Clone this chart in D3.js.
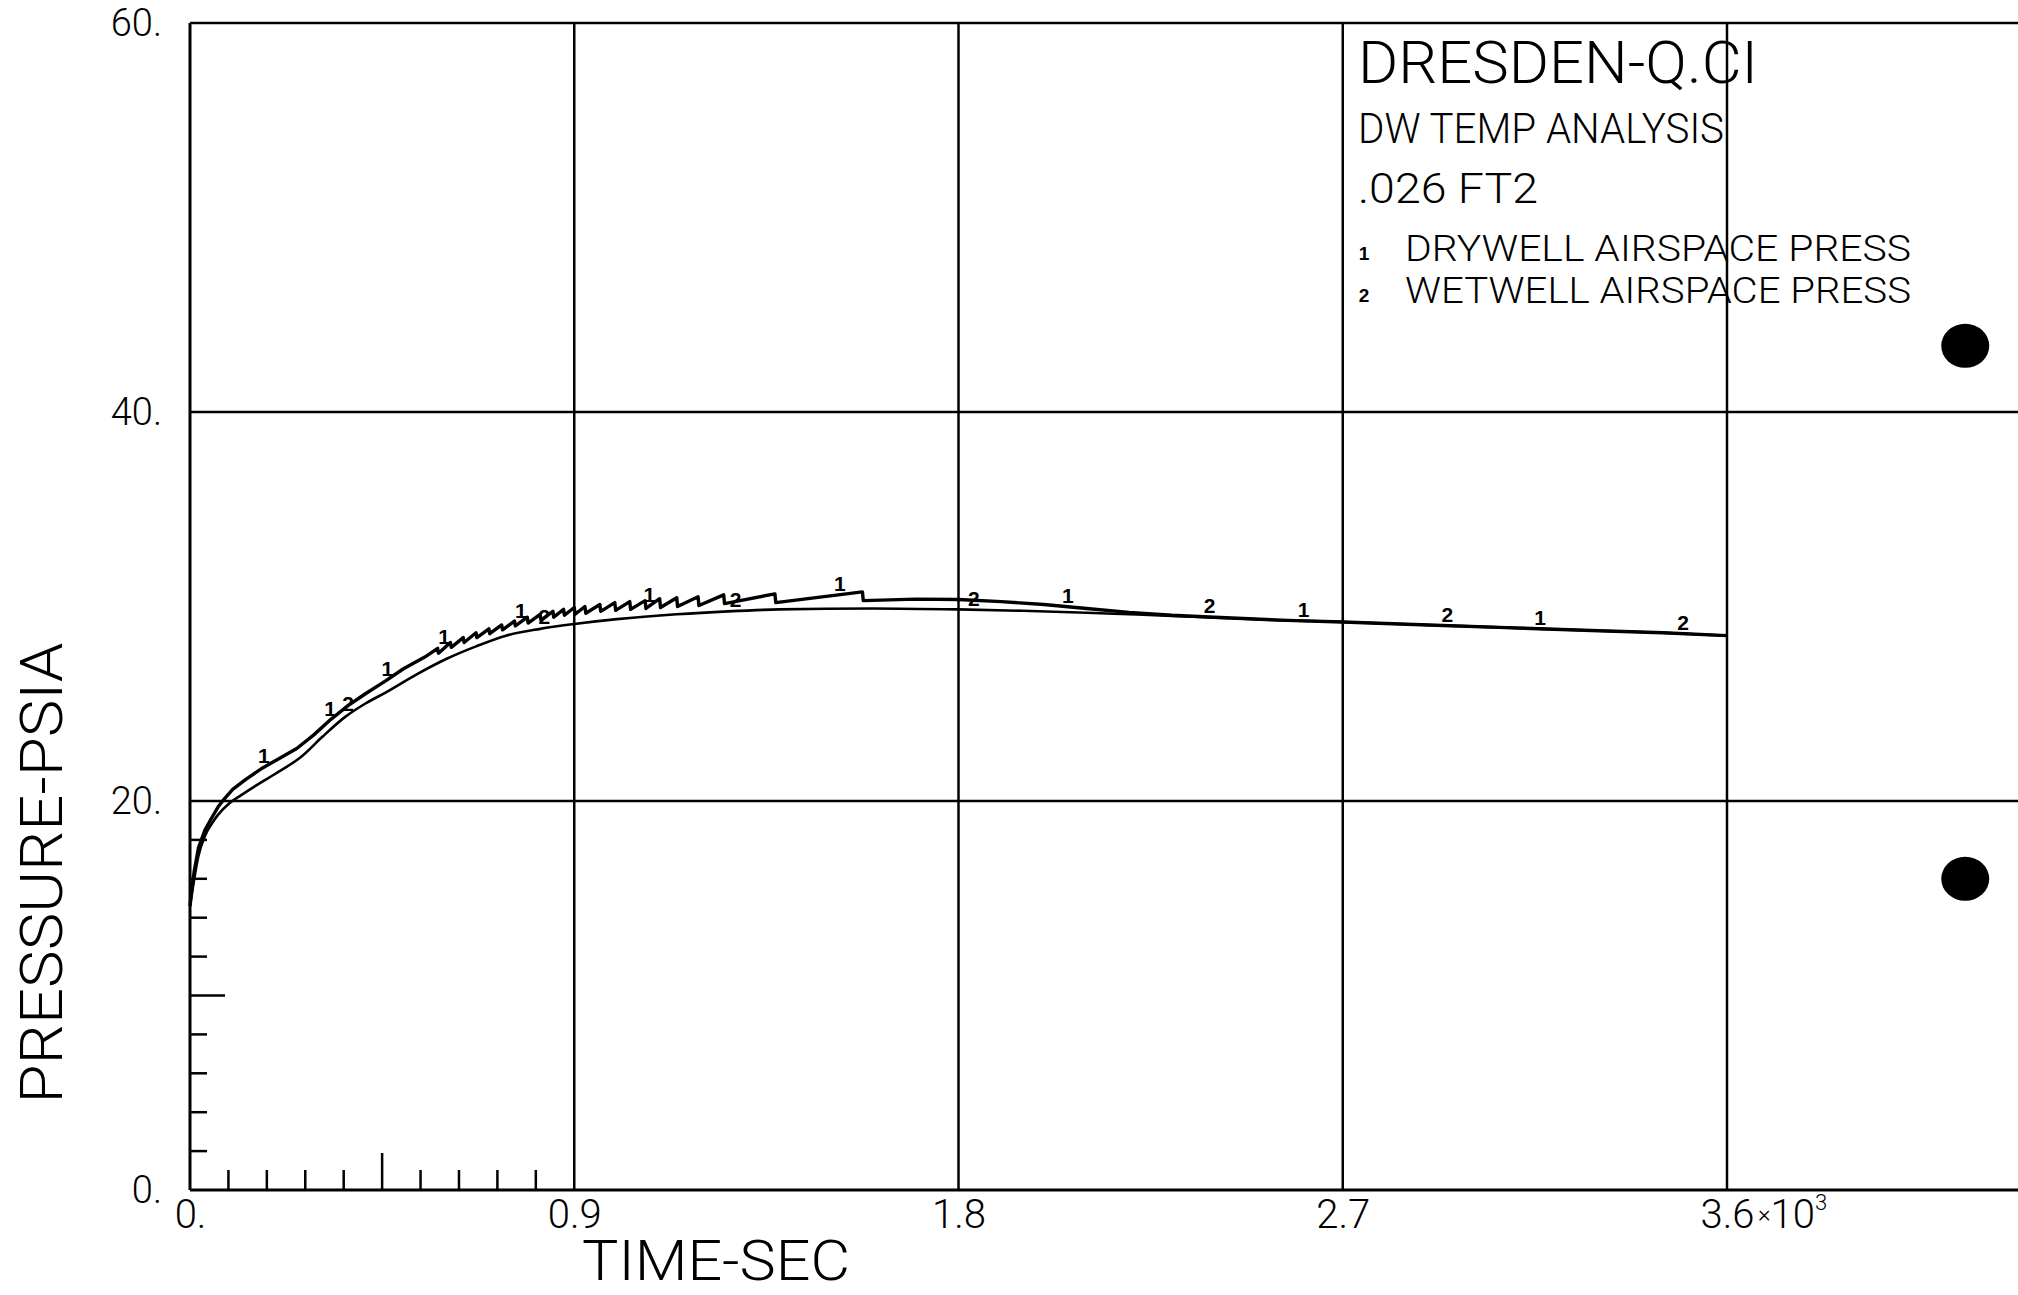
<!DOCTYPE html>
<html>
<head>
<meta charset="utf-8">
<script src="https://cdn.jsdelivr.net/npm/d3@7"></script>
<style>
  body { margin: 0; background: #fff; }
  svg { display: block; }
  .lbl { font-family: Roboto, "DejaVu Sans", sans-serif; font-weight: 300; fill: #000; }
  .mk { font-family: "Liberation Sans", Arial, sans-serif; font-weight: bold; fill: #000; }
</style>
</head>
<body>
<div id="chart"></div>
<script>
const width = 2018;
const height = 1295;

// axis ticks
const xTicks = [0, 0.9, 1.8, 2.7, 3.6];
const xTickLabels = ["0.", "0.9", "1.8", "2.7", "3.6"];
const yTicks = [0, 20, 40, 60];
const yTickLabels = ["0.", "20.", "40.", "60."];
const xMinor = [0.09, 0.18, 0.27, 0.36, 0.45, 0.54, 0.63, 0.72, 0.81];
const yMinor = [2, 4, 6, 8, 10, 12, 14, 16, 18];

// time (x10^3 sec), pressure (psia)
const drywell = [
  [0, 14.6], [0.005, 15.6], [0.01, 16.4], [0.02, 17.6], [0.035, 18.5], [0.05, 19.1],
  [0.066, 19.7], [0.08, 20.1], [0.1, 20.6], [0.13, 21.1], [0.17, 21.7], [0.21, 22.2],
  [0.25, 22.7], [0.29, 23.4], [0.33, 24.2], [0.37, 24.9], [0.41, 25.5], [0.46, 26.2],
  [0.5, 26.8], [0.55, 27.4],
  [0.58, 27.85], [0.582, 27.6], [0.61, 28.15], [0.612, 27.9], [0.64, 28.4], [0.642, 28.15],
  [0.67, 28.65], [0.672, 28.4], [0.70, 28.85], [0.702, 28.6], [0.73, 29.05], [0.732, 28.8],
  [0.76, 29.25], [0.762, 29.0], [0.79, 29.45], [0.792, 29.15], [0.82, 29.6], [0.822, 29.3],
  [0.85, 29.75], [0.852, 29.45], [0.875, 29.85], [0.877, 29.55], [0.9, 29.95], [0.902, 29.6],
  [0.925, 30.0], [0.927, 29.65], [0.96, 30.1], [0.962, 29.75], [0.995, 30.2], [0.997, 29.8],
  [1.03, 30.25], [1.032, 29.85], [1.066, 30.3], [1.068, 29.9], [1.10, 30.4], [1.102, 29.95],
  [1.14, 30.45], [1.142, 30.0], [1.19, 30.5], [1.192, 30.05], [1.25, 30.6], [1.252, 30.15],
  [1.37, 30.65], [1.372, 30.2], [1.575, 30.75], [1.577, 30.3],
  [1.7, 30.38], [1.8, 30.36], [1.9, 30.25], [2.0, 30.1], [2.1, 29.9], [2.2, 29.7],
  [2.3, 29.55], [2.4, 29.45], [2.55, 29.3], [2.7, 29.2], [2.9, 29.05], [3.1, 28.9],
  [3.3, 28.75], [3.45, 28.65], [3.6, 28.5]
];
const wetwell = [
  [0, 14.6], [0.005, 15.3], [0.01, 16.0], [0.02, 17.2], [0.035, 18.2], [0.05, 18.8],
  [0.066, 19.3], [0.093, 19.9], [0.12, 20.3], [0.148, 20.7], [0.2, 21.4], [0.262, 22.3],
  [0.31, 23.3], [0.362, 24.3], [0.41, 25.0], [0.46, 25.6], [0.53, 26.5], [0.6, 27.3],
  [0.67, 27.95], [0.74, 28.5], [0.82, 28.85], [0.9, 29.1], [1.0, 29.35], [1.14, 29.6],
  [1.26, 29.75], [1.38, 29.85], [1.6, 29.9], [1.8, 29.85], [1.95, 29.78], [2.1, 29.68],
  [2.2, 29.6], [2.3, 29.52], [2.4, 29.43], [2.55, 29.3], [2.7, 29.2], [2.9, 29.05],
  [3.1, 28.9], [3.3, 28.75], [3.45, 28.65], [3.6, 28.5]
];

// curve id symbols along each trace
const marks1 = [0.173, 0.328, 0.462, 0.595, 0.775, 1.076, 1.522, 2.056, 2.608, 3.162];
const marks2 = [0.37, 0.83, 1.278, 1.836, 2.388, 2.945, 3.497];

// punch holes on the scanned sheet
const holes = [[4.158, 43.4], [4.158, 16.0]];

const legendLines = ["DRESDEN-Q.CI", "DW TEMP ANALYSIS", ".026 FT2"];
const seriesNames = ["DRYWELL AIRSPACE PRESS", "WETWELL AIRSPACE PRESS"];

const svg = d3.select("#chart").append("svg")
  .attr("width", width)
  .attr("height", height);

const x = d3.scaleLinear().domain([0, 4.5]).range([190, 190 + 4.5 * 1537 / 3.6]);
const y = d3.scaleLinear().domain([0, 60]).range([1190, 23]);

const ink = svg.append("g").attr("stroke", "#000").attr("fill", "none");

// grid
ink.selectAll(".vg")
  .data(xTicks.slice(1).concat([4.5]))
  .enter().append("line")
  .attr("x1", d => x(d)).attr("x2", d => x(d))
  .attr("y1", y(0)).attr("y2", y(60))
  .attr("stroke-width", 2.5);

ink.selectAll(".hg")
  .data([20, 40, 60])
  .enter().append("line")
  .attr("x1", x(0)).attr("x2", x(4.5))
  .attr("y1", d => y(d)).attr("y2", d => y(d))
  .attr("stroke-width", 2.5);

// axes
ink.append("line").attr("x1", x(0)).attr("x2", x(0)).attr("y1", y(0)).attr("y2", y(60)).attr("stroke-width", 3);
ink.append("line").attr("x1", x(0)).attr("x2", x(4.5)).attr("y1", y(0)).attr("y2", y(0)).attr("stroke-width", 3);

// minor ticks
ink.selectAll(".xm")
  .data(xMinor)
  .enter().append("line")
  .attr("x1", d => x(d)).attr("x2", d => x(d))
  .attr("y1", y(0)).attr("y2", d => y(0) - (Math.abs(d - 0.45) < 1e-6 ? 37 : 20))
  .attr("stroke-width", 2.5);

ink.selectAll(".ym")
  .data(yMinor)
  .enter().append("line")
  .attr("x1", x(0)).attr("x2", d => x(0) + (d === 10 ? 35 : 17))
  .attr("y1", d => y(d)).attr("y2", d => y(d))
  .attr("stroke-width", 2.5);

// tick labels
svg.append("g")
  .attr("transform", `translate(0,${y(0)})`)
  .call(d3.axisBottom(x).tickValues(xTicks).tickFormat((d, i) => xTickLabels[i]).tickSize(0).tickPadding(10))
  .call(g => g.select(".domain").remove())
  .selectAll("text")
  .attr("class", "lbl")
  .style("font-size", "40px");

svg.append("g")
  .attr("transform", `translate(${x(0)},0)`)
  .call(d3.axisLeft(y).tickValues(yTicks).tickFormat((d, i) => yTickLabels[i]).tickSize(0).tickPadding(28))
  .call(g => g.select(".domain").remove())
  .selectAll("text")
  .attr("class", "lbl")
  .style("font-size", "38px");

const exp = svg.append("text")
  .attr("class", "lbl")
  .attr("x", x(3.6) + 31)
  .attr("y", 1228)
  .style("font-size", "40px");
exp.append("tspan").style("font-size", "24px").attr("dy", -6).text("×");
exp.append("tspan").attr("dy", 6).text("10");
exp.append("tspan").style("font-size", "22px").attr("dy", -18).text("3");

// axis titles
svg.append("text")
  .attr("class", "lbl")
  .attr("transform", "translate(62,873) rotate(-90)")
  .attr("text-anchor", "middle")
  .attr("textLength", 461)
  .attr("lengthAdjust", "spacingAndGlyphs")
  .style("font-size", "60px")
  .text("PRESSURE-PSIA");

svg.append("text")
  .attr("class", "lbl")
  .attr("x", 582)
  .attr("y", 1280)
  .attr("textLength", 268)
  .attr("lengthAdjust", "spacingAndGlyphs")
  .style("font-size", "56px")
  .text("TIME-SEC");

// curves
const line = d3.line().x(d => x(d[0])).y(d => y(d[1]));

ink.append("path").datum(wetwell)
  .attr("d", line.curve(d3.curveMonotoneX))
  .attr("stroke-width", 2.6)
  .attr("stroke-linejoin", "round");

ink.append("path").datum(drywell)
  .attr("d", line.curve(d3.curveLinear))
  .attr("stroke-width", 3.4)
  .attr("stroke-linejoin", "round");

const bis = d3.bisector(d => d[0]).left;
function valueAt(series, t) {
  const i = Math.max(1, bis(series, t));
  const a = series[i - 1], b = series[i];
  return a[1] + (b[1] - a[1]) * (t - a[0]) / (b[0] - a[0]);
}

svg.selectAll(".m1")
  .data(marks1)
  .enter().append("text")
  .attr("class", "mk")
  .attr("x", d => x(d))
  .attr("y", d => y(valueAt(drywell, d)) - 4)
  .attr("text-anchor", "middle")
  .style("font-size", "21px")
  .text("1");

svg.selectAll(".m2")
  .data(marks2)
  .enter().append("text")
  .attr("class", "mk")
  .attr("x", d => x(d))
  .attr("y", d => y(valueAt(wetwell, d)) - 4)
  .attr("text-anchor", "middle")
  .style("font-size", "21px")
  .text("2");

// legend block
const legendSpec = [
  { size: 60, base: 83, len: 400 },
  { size: 43, base: 143, len: 366 },
  { size: 43, base: 203, len: 180 }
];
legendLines.forEach((t, i) => {
  svg.append("text")
    .attr("class", "lbl")
    .attr("x", 1358)
    .attr("y", legendSpec[i].base)
    .attr("textLength", legendSpec[i].len)
    .attr("lengthAdjust", "spacingAndGlyphs")
    .style("font-size", legendSpec[i].size + "px")
    .text(t);
});

seriesNames.forEach((t, i) => {
  const base = 261 + i * 42;
  svg.append("text")
    .attr("class", "mk")
    .attr("x", 1364)
    .attr("y", base - 1)
    .attr("text-anchor", "middle")
    .style("font-size", "19px")
    .text(String(i + 1));
  svg.append("text")
    .attr("class", "lbl")
    .attr("x", 1405)
    .attr("y", base)
    .attr("textLength", 506)
    .attr("lengthAdjust", "spacingAndGlyphs")
    .style("font-size", "36px")
    .text(t);
});

// holes
svg.selectAll(".hole")
  .data(holes)
  .enter().append("ellipse")
  .attr("cx", d => x(d[0]))
  .attr("cy", d => y(d[1]))
  .attr("rx", 24)
  .attr("ry", 22)
  .attr("fill", "#000");
</script>
</body>
</html>
